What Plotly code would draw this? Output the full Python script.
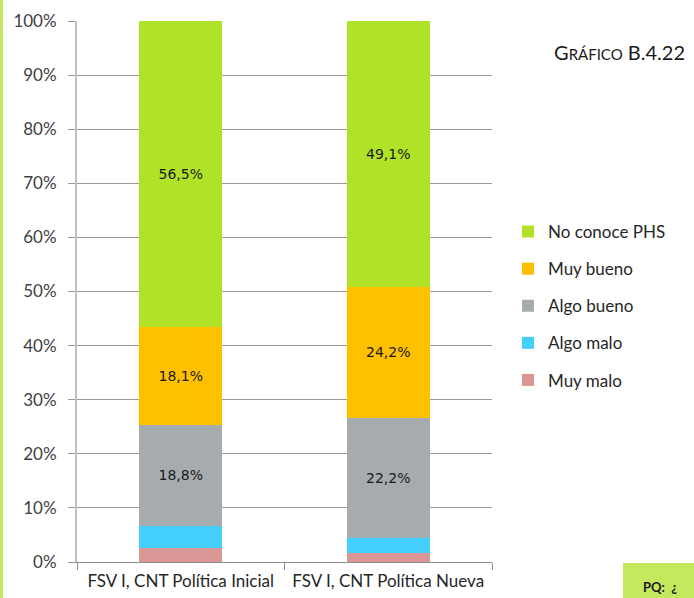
import plotly.graph_objects as go

# Survey results by scenario (percent of respondents)
categories = ["FSV I, CNT Política Inicial", "FSV I, CNT Política Nueva"]
series_names = ["Muy malo", "Algo malo", "Algo bueno", "Muy bueno", "No conoce PHS"]
muy_malo = [2.6, 1.7]
algo_malo = [4.0, 2.8]
algo_bueno = [18.8, 22.2]
muy_bueno = [18.1, 24.2]
no_conoce = [56.5, 49.1]
y_ticks = [0, 10, 20, 30, 40, 50, 60, 70, 80, 90, 100]
y_tick_labels = [f"{v}%" for v in y_ticks]

series_values = [muy_malo, algo_malo, algo_bueno, muy_bueno, no_conoce]
colors = ["#d99694", "#45cfff", "#a6abae", "#ffc000", "#b0e228"]
show_label = [False, False, True, True, True]

W, H = 694, 598
ML, MR, MT, MB = 77, 202, 21, 36
PW, PH = W - ML - MR, H - MT - MB


def px_x(x):
    return (x - ML) / PW


def px_y(y):
    return (H - MB - y) / PH


fig = go.Figure()
n = len(series_names)
for i, (name, vals, col, lab) in enumerate(zip(series_names, series_values, colors, show_label)):
    fig.add_trace(go.Bar(
        x=categories, y=vals, name=name, legendgroup=name,
        legendrank=n - i,
        marker=dict(color=col, line=dict(width=0)),
        width=0.4,
        texttemplate="%{y:.1f}%" if lab else None,
        textposition="inside" if lab else "none",
        insidetextanchor="middle",
        textangle=0,
        textfont=dict(family="DejaVu Sans", size=14, color="#1a1a1a"),
        hoverinfo="skip",
    ))

fig.update_layout(
    width=W, height=H,
    barmode="stack",
    separators=",.",
    margin=dict(l=ML, r=MR, t=MT, b=MB, pad=0, autoexpand=False),
    paper_bgcolor="white", plot_bgcolor="white",
    font=dict(family="Lato", size=17, color="#404040"),
    uniformtext=dict(mode="show", minsize=8),
    legend=dict(
        x=px_x(508), y=px_y(214), xanchor="left", yanchor="top",
        traceorder="grouped", tracegroupgap=12,
        font=dict(family="Lato", size=17, color="#262626"),
        itemwidth=30, bgcolor="rgba(0,0,0,0)",
    ),
    xaxis=dict(
        type="category", tickson="boundaries", ticks="outside", ticklen=7,
        tickcolor="#8c8c8c", showline=True, linecolor="#8c8c8c", linewidth=1,
        showgrid=False, tickangle=0, automargin=False, ticklabelstandoff=4,
        tickfont=dict(family="Lato", size=17, color="#262626"),
        range=[-0.5, 1.5],
    ),
    yaxis=dict(
        range=[0, 100], tickmode="array", tickvals=y_ticks, ticktext=y_tick_labels,
        ticks="outside", ticklen=7, tickcolor="#9a9a9a", showline=True,
        linecolor="#c0c0c0", linewidth=2, showgrid=True, gridcolor="#9a9a9a",
        gridwidth=1, zeroline=False, automargin=False, ticklabelstandoff=8,
        tickfont=dict(family="Lato", size=17, color="#404040"),
    ),
    shapes=[
        # page accent strip on the left edge
        dict(type="rect", xref="paper", yref="paper", x0=px_x(0), x1=px_x(3),
             y0=px_y(H), y1=px_y(0), fillcolor="#c6e85e", line=dict(width=0),
             layer="below"),
        # green note box at the lower right
        dict(type="rect", xref="paper", yref="paper", x0=px_x(623), x1=px_x(W + 2),
             y0=px_y(H + 2), y1=px_y(563), fillcolor="#c5e85e", line=dict(width=0),
             layer="below"),
    ],
    annotations=[
        dict(text="G<span style='font-size:15px'>RÁFICO</span> B.4.22",
             xref="paper", yref="paper", x=px_x(552), y=px_y(52),
             xanchor="left", yanchor="middle", showarrow=False,
             font=dict(family="Lato", size=20, color="#1a1a1a")),
        dict(text="<b>PQ:  ¿</b>", xref="paper", yref="paper",
             x=px_x(641), y=px_y(597), xanchor="left", yanchor="bottom",
             showarrow=False, font=dict(family="Lato", size=13, color="#1a1a1a")),
    ],
)

fig.write_html("out.html")
